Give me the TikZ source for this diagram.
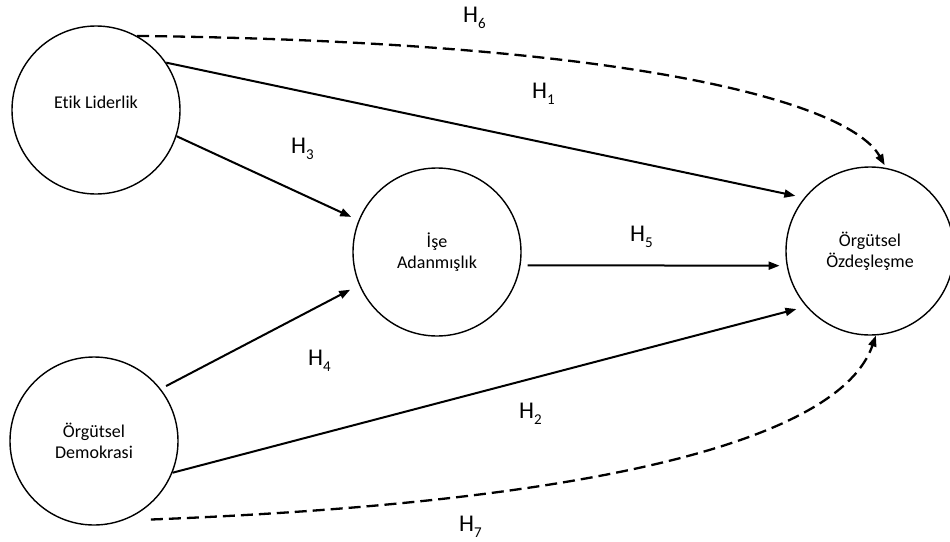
\documentclass[tikz,border=0pt]{standalone}
\usepackage{fontspec}
\setmainfont{Carlito}[Ligatures=NoCommon]
\usetikzlibrary{arrows.meta}
\newcommand{\hyp}[1]{H\raisebox{-6pt}{\fontsize{15}{15}\selectfont #1}}
\begin{document}
\begin{tikzpicture}[x=1pt,y=-1pt,
  var/.style={circle, draw, line width=1.4pt, minimum size=168pt, inner sep=0pt, align=center, font=\fontsize{18}{21}\selectfont},
  path/.style={line width=2pt, -{Triangle[length=11pt,width=8pt]}},
  indirect/.style={path, line width=2.3pt, dash pattern=on 12pt off 6pt},
  hlab/.style={anchor=base west, inner sep=0pt, font=\fontsize{24}{26}\selectfont}]
\useasboundingbox (0,0) rectangle (950,541);
\node[var, text depth=16pt] (el) at (96,110){Etik Liderlik};
\node[var] (dm) at (94,441){Örgütsel\\Demokrasi};
\node[var] (ia) at (437,252){İşe\\Adanmışlık};
\node[var] (oz) at (870,251){Örgütsel\\Özdeşleşme};
\draw[path, shorten >=9pt](el.34) -- (oz.141);
\draw[path, shorten >=8pt](el.-18) -- (ia.158);
\draw[path, shorten <=6pt, shorten >=10pt](dm.38) -- (ia.-157);
\draw[path, shorten >=10pt](dm.-22) -- (oz.-139);
\draw[path, shorten <=7pt, shorten >=7pt](ia.-9) -- (oz.190);
\draw[indirect, shorten >=3pt](el.61) .. controls (640,42) and (850,103.5) .. (oz.79);
\draw[indirect, shorten <=28pt](dm.-70) .. controls (602,502) and (840,439) .. (oz.-86);
\node[hlab] (h6) at (463,22){\hyp{6}};
\node[hlab] (h1) at (532,98){\hyp{1}};
\node[hlab] (h3) at (291,153){\hyp{3}};
\node[hlab] (h5) at (630,241){\hyp{5}};
\node[hlab] (h4) at (308,365){\hyp{4}};
\node[hlab] (h2) at (519,418){\hyp{2}};
\node[hlab] (h7) at (459,531){\hyp{7}};
\end{tikzpicture}
\end{document}
